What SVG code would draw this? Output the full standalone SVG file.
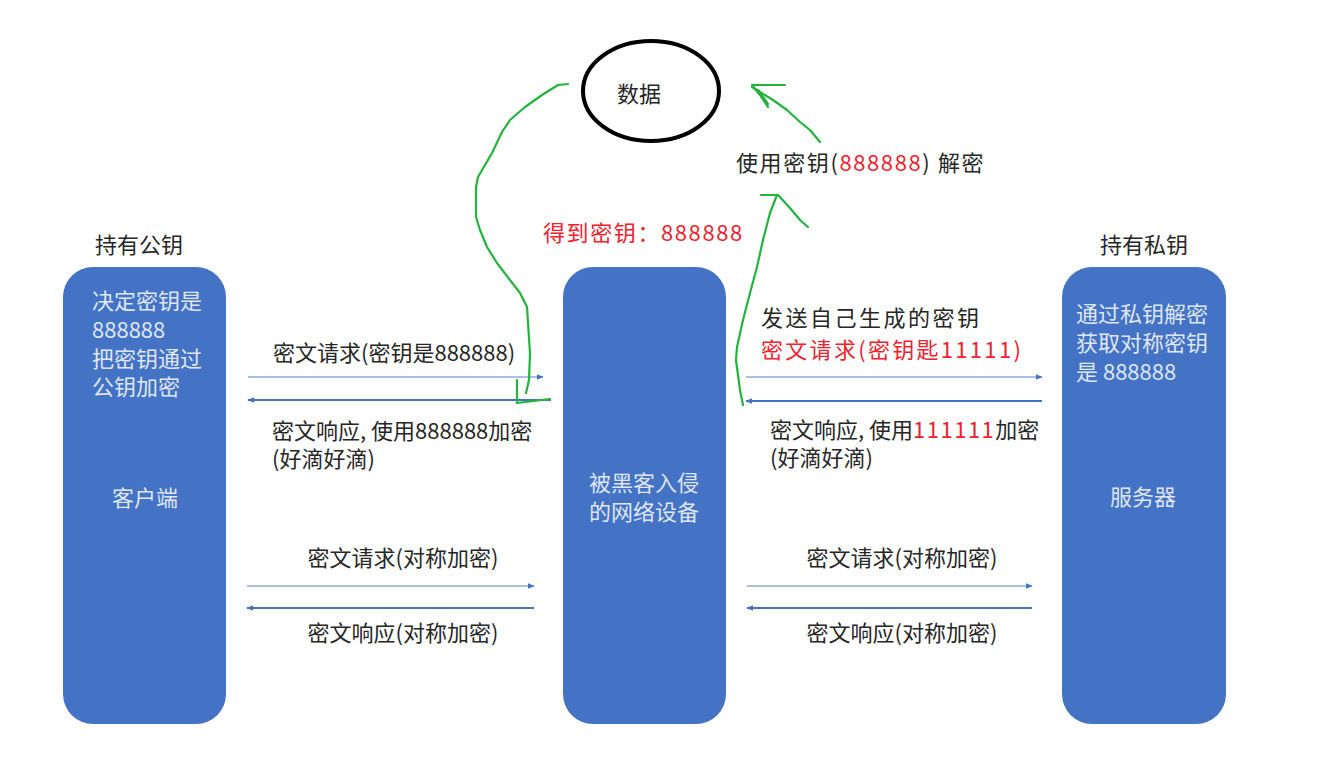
<svg xmlns="http://www.w3.org/2000/svg" width="1343" height="758" viewBox="0 0 1343 758">
<defs>
<style>
text{font-family:"Noto Sans CJK SC","Liberation Sans",sans-serif;font-size:22px;fill:#262626}
.box{fill:#4472c4}
.bt{fill:#dfe7f5}
.red{fill:#f0222e}
.wide{letter-spacing:1.6px}
.req{stroke:#8faadc;stroke-width:1.6;fill:none}
.rsp{stroke:#4472c4;stroke-width:2;fill:none}
.g{stroke:#22b43c;stroke-width:2.2;fill:none;stroke-linecap:round;stroke-linejoin:round}
</style>
<marker id="ah" viewBox="0 0 10 10" refX="9" refY="5" markerWidth="7" markerHeight="7" markerUnits="userSpaceOnUse" orient="auto"><path d="M0,1 L10,5 L0,9 z" fill="#4472c4"/></marker>
</defs>
<rect width="1343" height="758" fill="#fff"/>

<g id="data">
<ellipse cx="651" cy="91" rx="68" ry="50" fill="none" stroke="#000" stroke-width="4"/>
<text x="639" y="102" text-anchor="middle">数据</text>
</g>

<g id="client">
<text x="95" y="253">持有公钥</text>
<rect class="box" x="63" y="267" width="163" height="457" rx="30"/>
<text class="bt" x="92" y="309">决定密钥是</text>
<text class="bt" x="92" y="338">888888</text>
<text class="bt" x="92" y="367">把密钥通过</text>
<text class="bt" x="92" y="395">公钥加密</text>
<text class="bt" x="145" y="506" text-anchor="middle">客户端</text>
</g>

<g id="hacker">
<rect class="box" x="563" y="267" width="163" height="457" rx="30"/>
<text class="bt" x="644" y="491" text-anchor="middle">被黑客入侵</text>
<text class="bt" x="644" y="520" text-anchor="middle">的网络设备</text>
</g>

<g id="server">
<text x="1100" y="253">持有私钥</text>
<rect class="box" x="1062" y="267" width="164" height="457" rx="30"/>
<text class="bt" x="1076" y="322">通过私钥解密</text>
<text class="bt" x="1076" y="351">获取对称密钥</text>
<text class="bt" x="1076" y="380">是 888888</text>
<text class="bt" x="1143" y="505" text-anchor="middle">服务器</text>
</g>

<g id="labels">
<text class="wide" x="736" y="171">使用密钥(<tspan class="red">888888</tspan>) 解密</text>
<text class="red wide" x="543" y="241">得到密钥：888888</text>
<text x="273" y="361">密文请求(密钥是888888)</text>
<text x="272" y="439">密文响应, 使用888888加密</text>
<text x="272" y="467">(好滴好滴)</text>
<text x="761" y="326" style="letter-spacing:2.5px">发送自己生成的密钥</text>
<text class="red" x="761" y="358" style="letter-spacing:2.3px">密文请求(密钥匙11111)</text>
<text x="770" y="438">密文响应, 使用<tspan class="red" style="letter-spacing:1.5px">111111</tspan>加密</text>
<text x="770" y="466">(好滴好滴)</text>
<text x="403" y="566" text-anchor="middle">密文请求(对称加密)</text>
<text x="403" y="641" text-anchor="middle">密文响应(对称加密)</text>
<text x="902" y="566" text-anchor="middle">密文请求(对称加密)</text>
<text x="902" y="641" text-anchor="middle">密文响应(对称加密)</text>
</g>

<g id="connectors">
<line class="req" x1="248" y1="377" x2="543" y2="377" marker-end="url(#ah)"/>
<line class="rsp" x1="551" y1="400" x2="248" y2="400" marker-end="url(#ah)"/>
<line class="req" x1="746" y1="377" x2="1042" y2="377" marker-end="url(#ah)"/>
<line class="rsp" x1="1042" y1="401" x2="746" y2="401" marker-end="url(#ah)"/>
<line class="req" x1="247" y1="586" x2="534" y2="586" marker-end="url(#ah)"/>
<line class="rsp" x1="534" y1="608" x2="247" y2="608" marker-end="url(#ah)"/>
<line class="req" x1="747" y1="586" x2="1032" y2="586" marker-end="url(#ah)"/>
<line class="rsp" x1="1032" y1="608" x2="747" y2="608" marker-end="url(#ah)"/>

<path class="g" d="M568,84 L558,85 L542,95 L525,107 L510,120 L502,132 L492,153 L478,177 L476,187 L476,217 L480,230 L487,247 L497,263 L510,280 L520,293 L527,307 L528,323 L530,353 L529,380 L526,393"/>
<path class="g" d="M517,380 L517,403 L550,399"/>
<path class="g" d="M743,405 L740,390 L736,360 L737,347 L743,320 L750,293 L757,267 L763,240 L770,213 L777,195"/>
<path class="g" d="M761,195 L778,195 L790,208 L800,220 L808,227"/>
<path class="g" d="M820,142 L810,130 L800,122 L787,110 L773,100 L760,92 L752,87"/>
<path class="g" d="M785,85 L752,85 L760,95 L768,107"/>
<path class="g" d="M758,90 L768,104"/>
</g>
</svg>
